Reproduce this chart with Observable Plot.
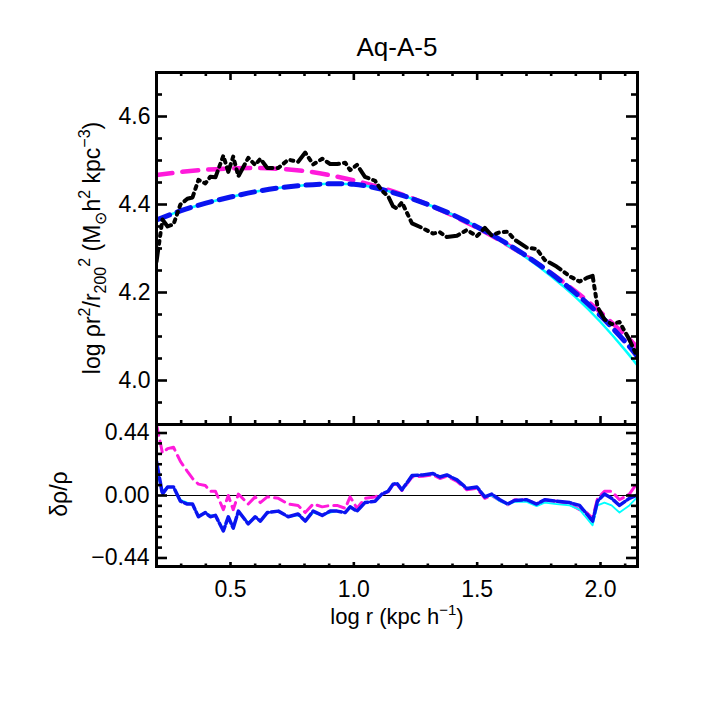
<!DOCTYPE html>
<html><head><meta charset="utf-8">
<script src="https://cdn.jsdelivr.net/npm/d3@7"></script>
<script src="https://cdn.jsdelivr.net/npm/@observablehq/plot@0.6"></script>
<style>
body{margin:0;background:#fff}
#chart{position:relative;width:709px;height:709px;background:#fff}
#chart svg{position:absolute;left:0;top:0;overflow:visible}
</style></head><body><div id="chart"></div>
<script>
// ---- data ----
const radius = [0.200,0.224,0.245,0.269,0.297,0.325,0.346,0.370,0.398,0.418,0.439,0.471,0.491,0.511,0.532,0.572,0.600,0.621,0.649,0.694,0.734,0.774,0.803,0.835,0.872,0.904,0.932,0.965,0.985,1.013,1.045,1.086,1.114,1.139,1.159,1.175,1.195,1.236,1.280,1.321,1.349,1.377,1.418,1.458,1.499,1.531,1.559,1.592,1.624,1.652,1.701,1.741,1.774,1.822,1.875,1.915,1.944,1.968,1.988,2.016,2.045,2.077,2.117,2.150];
const profile = [4.27,4.366,4.35,4.355,4.40,4.413,4.416,4.456,4.448,4.463,4.462,4.511,4.474,4.509,4.464,4.506,4.49,4.504,4.483,4.483,4.502,4.497,4.518,4.491,4.504,4.492,4.492,4.495,4.478,4.49,4.463,4.454,4.431,4.419,4.396,4.391,4.405,4.357,4.346,4.334,4.337,4.326,4.329,4.342,4.328,4.347,4.33,4.337,4.338,4.32,4.302,4.299,4.274,4.259,4.237,4.225,4.233,4.238,4.167,4.139,4.128,4.133,4.093,4.053];
const resMagenta = [0.50,0.30,0.33,0.34,0.24,0.17,0.12,0.08,0.07,0.03,0.03,-0.10,0.00,-0.10,0.01,-0.06,-0.01,-0.05,-0.01,-0.02,-0.06,-0.07,-0.12,-0.06,-0.08,-0.07,-0.07,-0.09,-0.01,-0.09,-0.02,-0.01,0.01,0.025,0.075,0.08,0.035,0.13,0.135,0.145,0.12,0.135,0.10,0.04,0.05,-0.02,0.00,-0.035,-0.065,-0.03,-0.03,-0.06,-0.03,-0.04,-0.06,-0.10,-0.12,-0.16,-0.02,0.03,0.03,-0.03,0.01,0.09];
const resBlue = [0.24,0.01,0.06,0.06,-0.04,-0.06,-0.06,-0.15,-0.12,-0.15,-0.14,-0.25,-0.15,-0.23,-0.11,-0.20,-0.15,-0.18,-0.12,-0.11,-0.15,-0.13,-0.18,-0.11,-0.14,-0.11,-0.11,-0.12,-0.08,-0.11,-0.05,-0.04,0.01,0.03,0.08,0.085,0.04,0.14,0.145,0.155,0.13,0.145,0.11,0.05,0.06,-0.01,0.01,-0.03,-0.06,-0.035,-0.03,-0.06,-0.03,-0.04,-0.05,-0.07,-0.13,-0.18,-0.04,0.01,-0.02,-0.07,-0.02,0.005];
const resCyan = [0.17,0.03,0.06,0.06,-0.03,-0.05,-0.06,-0.14,-0.12,-0.14,-0.14,-0.24,-0.15,-0.23,-0.11,-0.19,-0.15,-0.18,-0.12,-0.11,-0.15,-0.14,-0.18,-0.12,-0.14,-0.12,-0.11,-0.12,-0.08,-0.11,-0.05,-0.04,0.01,0.03,0.08,0.085,0.04,0.14,0.145,0.155,0.13,0.145,0.11,0.05,0.06,-0.01,0.00,-0.04,-0.065,-0.045,-0.045,-0.075,-0.05,-0.06,-0.07,-0.10,-0.16,-0.21,-0.07,-0.05,-0.07,-0.12,-0.07,-0.01];

const fitRadius  = [0.20,0.30,0.40,0.50,0.60,0.70,0.80,0.90,1.00,1.10,1.20,1.30,1.40,1.50,1.60,1.70,1.80,1.90,2.00,2.10,2.15];
const fitMagenta = [4.467,4.474,4.479,4.482,4.483,4.481,4.476,4.467,4.455,4.440,4.422,4.400,4.375,4.347,4.316,4.282,4.244,4.202,4.155,4.103,4.075];
const fitBlue    = [4.365,4.386,4.403,4.417,4.429,4.438,4.444,4.447,4.446,4.436,4.420,4.400,4.377,4.349,4.318,4.283,4.243,4.198,4.147,4.088,4.054];
const fitCyan    = [4.365,4.386,4.403,4.417,4.429,4.438,4.444,4.447,4.446,4.436,4.420,4.400,4.377,4.349,4.316,4.279,4.237,4.189,4.133,4.069,4.034];

const xMajor = [0.5,1.0,1.5,2.0];
const xMinor = [0.3,0.4,0.6,0.7,0.8,0.9,1.1,1.2,1.3,1.4,1.6,1.7,1.8,1.9,2.1];
const yTopMajor = [4.0,4.2,4.4,4.6];
const yTopMinor = [3.95,4.05,4.1,4.15,4.25,4.3,4.35,4.45,4.5,4.55,4.65];
const yBotMajor = [-0.44,0,0.44];
const yBotMinor = [-0.367,-0.293,-0.22,-0.147,-0.073,0.073,0.147,0.22,0.293,0.367];
const zeroLine = [0];

// ---- tables ----
const profTable = radius.map((x,i)=>({x, y:profile[i], m:resMagenta[i], b:resBlue[i], c:resCyan[i]}));
const fitTable = fitRadius.map((x,i)=>({x, m:fitMagenta[i], b:fitBlue[i], c:fitCyan[i]}));

const MAG = "#ff1adb", BLUE = "#0a14f0", CYAN = "#00ffff";
const font = "'Liberation Sans', Arial, sans-serif";
const W = 709 - 156 - 72;          // inner width
const HT = 709 - 72 - 285;         // top panel inner height
const HB = 709 - 424 - 143;        // bottom panel inner height

// inward ticks: frame-spanning tick marks trimmed with insets
const tw = 2.6;
function ticksBottom(v, s, H){ return Plot.tickX(v,{x:d=>d, insetTop:H - s, strokeWidth:tw}); }
function ticksTop(v, s, H){ return Plot.tickX(v,{x:d=>d, insetBottom:H - s, strokeWidth:tw}); }
function ticksLeft(v, s){ return Plot.tickY(v,{y:d=>d, insetRight:W - s, strokeWidth:tw}); }
function ticksRight(v, s){ return Plot.tickY(v,{y:d=>d, insetLeft:W - s, strokeWidth:tw}); }

const topPlot = Plot.plot({
  width:709, height:709,
  marginLeft:156, marginRight:72, marginTop:72, marginBottom:285,
  x:{domain:[0.2,2.15], axis:null}, y:{domain:[3.9,4.7], axis:null},
  style:{background:"transparent", fontFamily:font, fontSize:"23px", color:"black"},
  marks:[
    Plot.line(fitTable,{x:"x", y:"m", stroke:MAG, strokeWidth:4.5, strokeDasharray:"16,10", curve:"natural", clip:true}),
    Plot.line(fitTable,{x:"x", y:"c", stroke:CYAN, strokeWidth:2.5, curve:"natural", clip:true}),
    Plot.line(fitTable,{x:"x", y:"b", stroke:BLUE, strokeWidth:5, strokeDasharray:"14,8", curve:"natural", clip:true}),
    Plot.line(profTable,{x:"x", y:"y", stroke:"black", strokeWidth:4, strokeDasharray:"13,5,3,5,3,5,3,5", clip:true}),
    ticksTop(xMajor, 8, HT), ticksTop(xMinor, 4, HT),
    ticksBottom(xMajor, 8, HT), ticksBottom(xMinor, 4, HT),
    ticksLeft(yTopMajor, 11), ticksLeft(yTopMinor, 6),
    ticksRight(yTopMajor, 11), ticksRight(yTopMinor, 6),
    Plot.axisY(yTopMajor,{anchor:"left", tickSize:0, tickPadding:6, tickFormat:d3.format(".1f"), label:null}),
    Plot.frame({strokeWidth:3})
  ]
});

const botPlot = Plot.plot({
  width:709, height:709,
  marginLeft:156, marginRight:72, marginTop:424, marginBottom:143,
  x:{domain:[0.2,2.15], axis:null}, y:{domain:[-0.5,0.5], axis:null},
  style:{background:"transparent", fontFamily:font, fontSize:"23px", color:"black"},
  marks:[
    Plot.ruleY(zeroLine,{strokeWidth:1.2}),
    Plot.line(profTable,{x:"x", y:"m", stroke:MAG, strokeWidth:3, strokeDasharray:"11,6", clip:true}),
    Plot.line(profTable,{x:"x", y:"c", stroke:CYAN, strokeWidth:1.8, clip:true}),
    Plot.line(profTable,{x:"x", y:"b", stroke:BLUE, strokeWidth:3.5, strokeDasharray:"14,3", clip:true}),
    ticksBottom(xMajor, 4, HB), ticksBottom(xMinor, 2.5, HB),
    ticksLeft(yBotMajor, 11), ticksLeft(yBotMinor, 6),
    ticksRight(yBotMajor, 11), ticksRight(yBotMinor, 6),
    Plot.axisY(yBotMajor,{anchor:"left", tickSize:0, tickPadding:7, tickFormat:d3.format(".2f"), label:null}),
    Plot.axisX(xMajor,{anchor:"bottom", tickSize:0, tickPadding:14, tickFormat:d3.format(".1f"), label:null}),
    Plot.frame({strokeWidth:3})
  ]
});

const chart = document.getElementById("chart");
chart.appendChild(topPlot);
chart.appendChild(botPlot);

function richText(sel, parts, size){
  let shift = 0;
  parts.forEach(p=>{
    const target = p.s==="sup" ? -0.42*size : p.s==="sub" ? 0.28*size : 0;
    const ts = sel.append("tspan").attr("dy", target - shift).text(p.t);
    if (p.s) ts.style("font-size", Math.round(size*0.68)+"px");
    shift = target;
  });
}

const st = d3.select(topPlot);
st.append("text").attr("x",397).attr("y",56).attr("text-anchor","middle").style("font-size","26px").text("Aq-A-5");
const yt = st.append("text").attr("transform","translate(100,248) rotate(-90)").attr("text-anchor","middle").style("font-size","23px");
richText(yt,[{t:"log ρr"},{t:"2",s:"sup"},{t:"/r"},{t:"200",s:"sub"},{t:"2",s:"sup"},{t:" (M"},{t:"⊙",s:"sub"},{t:"h"},{t:"2",s:"sup"},{t:" kpc"},{t:"−3",s:"sup"},{t:")"}],23);

const sb = d3.select(botPlot);
const xt = sb.append("text").attr("x",397).attr("y",624).attr("text-anchor","middle").style("font-size","22px");
richText(xt,[{t:"log r (kpc h"},{t:"−1",s:"sup"},{t:")"}],22);
sb.append("text").attr("transform","translate(67,494) rotate(-90)").attr("text-anchor","middle").style("font-size","23px").text("δρ/ρ");
</script></body></html>
